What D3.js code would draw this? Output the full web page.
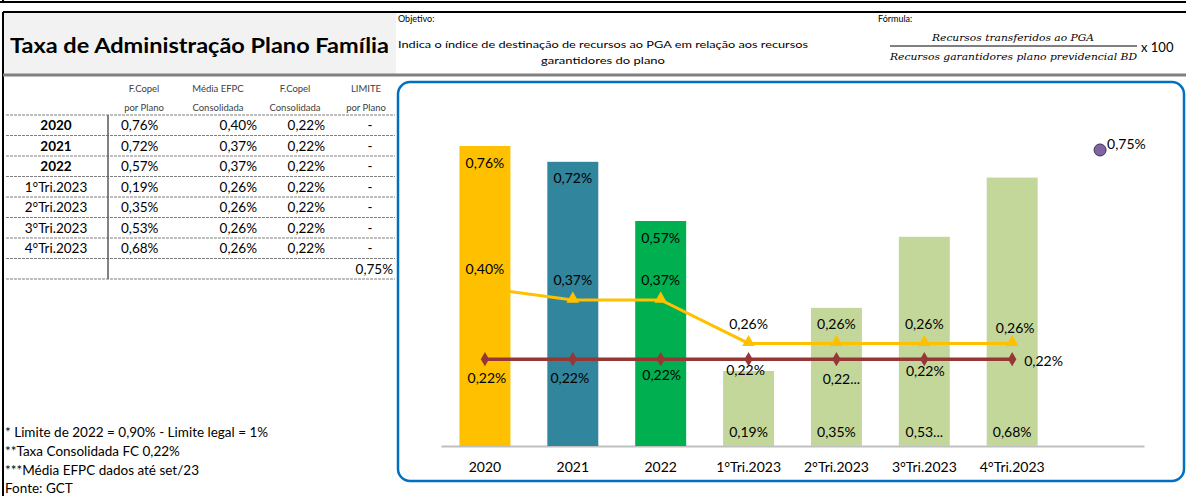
<!DOCTYPE html>
<html>
<head>
<meta charset="utf-8">
<script src="https://cdn.jsdelivr.net/npm/d3@7"></script>
<style>
  body { margin: 0; background: #fff; }
  svg { display: block; font-family: Lato, "Open Sans", sans-serif; }
  .tbl text { font-size: 13.5px; fill: #000; }
  .tbl .hdr { font-size: 9.5px; fill: #404040; }
  .lbl { font-size: 14px; fill: #000; }
  .note { font-size: 13.5px; fill: #000; }
</style>
</head>
<body>
<div id="chart"></div>
<script>
// data
const categories = ['2020', '2021', '2022', '1°Tri.2023', '2°Tri.2023', '3°Tri.2023', '4°Tri.2023'];
const fcopelPlano = [0.76, 0.72, 0.57, 0.19, 0.35, 0.53, 0.68];
const mediaEfpc = [0.40, 0.37, 0.37, 0.26, 0.26, 0.26, 0.26];
const fcopelConsolidada = [0.22, 0.22, 0.22, 0.22, 0.22, 0.22, 0.22];
const limitePlano = 0.75;
const tableHeaders = [['F.Copel', 'por Plano'], ['Média EFPC', 'Consolidada'], ['F.Copel', 'Consolidada'], ['LIMITE', 'por Plano']];
const notes = ['* Limite de 2022 = 0,90% - Limite legal = 1%', '**Taxa Consolidada FC 0,22%', '***Média EFPC dados até set/23', 'Fonte: GCT'];

const barColors = ['#FFC000', '#31859C', '#00B050', '#C4D79B', '#C4D79B', '#C4D79B', '#C4D79B'];
const fmt = v => d3.format('.2f')(v).replace('.', ',') + '%';

const W = 1186, H = 496;
const svg = d3.select('#chart').append('svg').attr('width', W).attr('height', H);

// ---- header
svg.append('line').attr('x1', 0).attr('x2', W).attr('y1', 2).attr('y2', 2).attr('stroke', '#000').attr('stroke-width', 2);
svg.append('line').attr('x1', 3).attr('x2', 3).attr('y1', 0).attr('y2', 3).attr('stroke', '#000').attr('stroke-width', 2);
svg.append('rect').attr('x', 3).attr('y', 12).attr('width', 393).attr('height', 62).attr('fill', '#F2F2F2');
svg.append('line').attr('x1', 3).attr('x2', W).attr('y1', 12).attr('y2', 12).attr('stroke', '#000').attr('stroke-width', 2);
svg.append('line').attr('x1', 3).attr('x2', 3).attr('y1', 12).attr('y2', H).attr('stroke', '#000').attr('stroke-width', 2);
svg.append('line').attr('x1', 3).attr('x2', W).attr('y1', 75).attr('y2', 75).attr('stroke', '#808080').attr('stroke-width', 3);

svg.append('text').attr('x', 10).attr('y', 53).attr('font-weight', 700).attr('font-size', 21)
  .attr('textLength', 379).attr('lengthAdjust', 'spacingAndGlyphs')
  .text('Taxa de Administração Plano Família');

svg.append('text').attr('x', 398).attr('y', 22).attr('font-size', 9).text('Objetivo:');
svg.append('text').attr('x', 398).attr('y', 48).attr('font-size', 10)
  .attr('textLength', 410).attr('lengthAdjust', 'spacingAndGlyphs')
  .text('Indica o índice de destinação de recursos ao PGA em relação aos recursos');
svg.append('text').attr('x', 541).attr('y', 64).attr('font-size', 10)
  .attr('textLength', 124).attr('lengthAdjust', 'spacingAndGlyphs')
  .text('garantidores do plano');

svg.append('text').attr('x', 878).attr('y', 22).attr('font-size', 9).text('Fórmula:');
const serif = '"DejaVu Serif", "Liberation Serif", serif';
svg.append('text').attr('x', 932).attr('y', 41).attr('font-family', serif).attr('font-style', 'italic').attr('font-size', 10)
  .attr('textLength', 162).attr('lengthAdjust', 'spacingAndGlyphs').text('Recursos transferidos ao PGA');
svg.append('line').attr('x1', 890).attr('x2', 1137).attr('y1', 46).attr('y2', 46).attr('stroke', '#000').attr('stroke-width', 1);
svg.append('text').attr('x', 890).attr('y', 60).attr('font-family', serif).attr('font-style', 'italic').attr('font-size', 10)
  .attr('textLength', 247).attr('lengthAdjust', 'spacingAndGlyphs').text('Recursos garantidores plano previdencial BD');
svg.append('text').attr('x', 1141).attr('y', 52).attr('font-size', 13).text('x 100');

// ---- table
const tbl = svg.append('g').attr('class', 'tbl');
const colX = [144, 218, 295, 366];
tableHeaders.forEach((h, i) => {
  tbl.append('text').attr('class', 'hdr').attr('x', colX[i]).attr('y', 92).attr('text-anchor', 'middle').text(h[0]);
  tbl.append('text').attr('class', 'hdr').attr('x', colX[i]).attr('y', 111).attr('text-anchor', 'middle').text(h[1]);
});

const rowTop = 115, rowH = 20.5;
d3.range(categories.length + 2).forEach(i => {
  tbl.append('line').attr('x1', 6).attr('x2', 395)
    .attr('y1', rowTop + i * rowH).attr('y2', rowTop + i * rowH)
    .attr('stroke', '#7F7F7F').attr('stroke-width', 1).attr('stroke-dasharray', '3,1');
});
tbl.append('line').attr('x1', 108).attr('x2', 108).attr('y1', rowTop).attr('y2', rowTop + (categories.length + 1) * rowH)
  .attr('stroke', '#595959').attr('stroke-width', 1.5);

categories.forEach((c, i) => {
  const y = rowTop + i * rowH + rowH / 2 + 5;
  tbl.append('text').attr('x', 56).attr('y', y).attr('text-anchor', 'middle')
    .attr('font-weight', i < 3 ? 700 : 400).text(c);
  tbl.append('text').attr('x', 121).attr('y', y).text(fmt(fcopelPlano[i]));
  tbl.append('text').attr('x', 257).attr('y', y).attr('text-anchor', 'end').text(fmt(mediaEfpc[i]));
  tbl.append('text').attr('x', 325).attr('y', y).attr('text-anchor', 'end').text(fmt(fcopelConsolidada[i]));
  tbl.append('text').attr('x', 370).attr('y', y).attr('text-anchor', 'middle').text('-');
});
tbl.append('text').attr('x', 393).attr('y', rowTop + categories.length * rowH + rowH / 2 + 5)
  .attr('text-anchor', 'end').text(fmt(limitePlano));

// ---- notes
notes.forEach((n, i) => {
  svg.append('text').attr('class', 'note').attr('x', 5).attr('y', 437 + i * 19 - (i === 3 ? 1 : 0)).text(n);
});

// ---- chart
svg.append('rect').attr('x', 398).attr('y', 82).attr('width', 786).attr('height', 399).attr('rx', 12)
  .attr('fill', '#fff').attr('stroke', '#0070C0').attr('stroke-width', 2.5);

const x = d3.scaleBand().domain([...categories, '']).range([441, 1144]).paddingInner(0.42).paddingOuter(0.21);
const y = d3.scaleLinear().domain([0, 1]).range([446, 51.3]);
const cx = c => x(c) + x.bandwidth() / 2;

const xAxis = d3.axisBottom(x).tickSize(0).tickSizeOuter(0).tickPadding(16);
const axG = svg.append('g').attr('transform', 'translate(0,446)').call(xAxis);
axG.select('.domain').attr('stroke', '#BFBFBF').attr('stroke-width', 2);
axG.selectAll('text').attr('font-size', 14).attr('font-family', 'Lato, sans-serif').attr('fill', '#000');

const barData = categories.map((c, i) => ({c, v: fcopelPlano[i], color: barColors[i], i}));
svg.append('g').selectAll('rect').data(barData).join('rect')
  .attr('x', d => x(d.c)).attr('width', x.bandwidth())
  .attr('y', d => y(d.v)).attr('height', d => y(0) - y(d.v))
  .attr('fill', d => d.color);

// orange line (Média EFPC)
const efpc = categories.map((c, i) => ({c, v: mediaEfpc[i]}));
svg.append('path').datum(efpc)
  .attr('d', d3.line().x(d => cx(d.c)).y(d => y(d.v)))
  .attr('fill', 'none').attr('stroke', '#FFC000').attr('stroke-width', 3);
svg.append('g').selectAll('path').data(efpc).join('path')
  .attr('transform', d => `translate(${cx(d.c)},${y(d.v) - 1})`)
  .attr('d', d3.symbol(d3.symbolTriangle, 70)).attr('fill', '#FFC000');

// red line (F.Copel consolidada)
const cons = categories.map((c, i) => ({c, v: fcopelConsolidada[i]}));
svg.append('path').datum(cons)
  .attr('d', d3.line().x(d => cx(d.c)).y(d => y(d.v)))
  .attr('fill', 'none').attr('stroke', '#953735').attr('stroke-width', 3.5);
svg.append('g').selectAll('path').data(cons).join('path')
  .attr('transform', d => `translate(${cx(d.c)},${y(d.v)})`)
  .attr('d', d3.symbol(d3.symbolDiamond, 60)).attr('fill', '#953735');

// limite point
svg.append('circle').attr('cx', cx('')).attr('cy', y(limitePlano)).attr('r', 6)
  .attr('fill', '#8064A2').attr('stroke', '#3F3151').attr('stroke-width', 1);

// ---- data labels (placement nudges mimic the spreadsheet layout)
const lbl = svg.append('g').attr('class', 'lbl').attr('text-anchor', 'middle').attr('dominant-baseline', 'central');
const cut = s => s.slice(0, 4) + '...';
barData.forEach(d => {
  const ly = d.i < 3 ? y(d.v) + 16 : y(0) - 15;
  lbl.append('text').attr('x', cx(d.c)).attr('y', ly).text(d.i === 5 ? cut(fmt(d.v)) : fmt(d.v));
});
const efpcDy = [-20, -20, -20, -20, -20, -20, -16];
const efpcDx = [0, 0, 0, 0, 0, 0, 3];
efpc.forEach((d, i) => {
  lbl.append('text').attr('x', cx(d.c) + efpcDx[i]).attr('y', y(d.v) + efpcDy[i]).text(fmt(d.v));
});
const consDy = [18, 18, 15, 10, 19, 11];
const consDx = [2, -3, 1, -3, 5, 1];
cons.forEach((d, i) => {
  if (i === cons.length - 1) {
    lbl.append('text').attr('text-anchor', 'start').attr('x', cx(d.c) + 12).attr('y', y(d.v) + 1).text(fmt(d.v));
  } else {
    lbl.append('text').attr('x', cx(d.c) + consDx[i]).attr('y', y(d.v) + consDy[i]).text(i === 4 ? cut(fmt(d.v)) : fmt(d.v));
  }
});
lbl.append('text').attr('text-anchor', 'start').attr('x', cx('') + 7).attr('y', y(limitePlano) - 6).text(fmt(limitePlano));
</script>
</body>
</html>
